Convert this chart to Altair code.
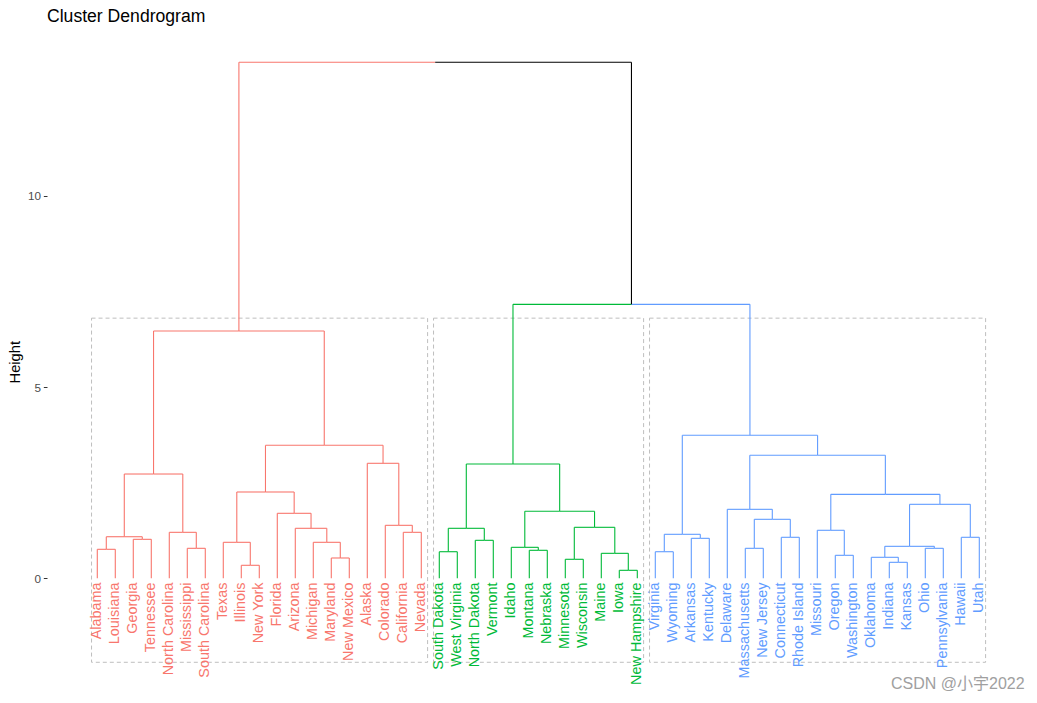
import altair as alt
import pandas as pd

# ---------------- data ----------------
red_leaves = ["Alabama", "Louisiana", "Georgia", "Tennessee", "North Carolina", "Mississippi",
              "South Carolina", "Texas", "Illinois", "New York", "Florida", "Arizona", "Michigan",
              "Maryland", "New Mexico", "Alaska", "Colorado", "California", "Nevada"]
green_leaves = ["South Dakota", "West Virginia", "North Dakota", "Vermont", "Idaho", "Montana",
                "Nebraska", "Minnesota", "Wisconsin", "Maine", "Iowa", "New Hampshire"]
blue_leaves = ["Virginia", "Wyoming", "Arkansas", "Kentucky", "Delaware", "Massachusetts",
               "New Jersey", "Connecticut", "Rhode Island", "Missouri", "Oregon", "Washington",
               "Oklahoma", "Indiana", "Kansas", "Ohio", "Pennsylvania", "Hawaii", "Utah"]

cluster_names = ["c1", "c2", "c3"]
cluster_colors = ["#F8766D", "#00BA38", "#619CFF"]

# merges: (left child, right child, height); child = leaf name or index of earlier merge
merges = [
    ("Alabama", "Louisiana", 0.758), ("Georgia", "Tennessee", 1.019), (0, 1, 1.087),
    ("Mississippi", "South Carolina", 0.784), ("North Carolina", 3, 1.202), (2, 4, 2.726),
    ("Illinois", "New York", 0.340), ("Texas", 6, 0.941), ("Maryland", "New Mexico", 0.531),
    ("Michigan", 8, 0.941), ("Arizona", 9, 1.307), ("Florida", 10, 1.699), (7, 11, 2.256),
    ("California", "Nevada", 1.202), ("Colorado", 13, 1.385), ("Alaska", 14, 3.006),
    (12, 15, 3.476), (5, 16, 6.464),
    ("South Dakota", "West Virginia", 0.695), ("North Dakota", "Vermont", 0.993), (18, 19, 1.307),
    ("Montana", "Nebraska", 0.732), ("Idaho", 21, 0.810), ("Minnesota", "Wisconsin", 0.497),
    ("Iowa", "New Hampshire", 0.209), ("Maine", 24, 0.653), (23, 25, 1.333), (22, 26, 1.751),
    (20, 27, 2.987),
    ("Virginia", "Wyoming", 0.695), ("Arkansas", "Kentucky", 1.045), (29, 30, 1.150),
    ("Massachusetts", "New Jersey", 0.784), ("Connecticut", "Rhode Island", 1.072), (32, 33, 1.542),
    ("Delaware", 34, 1.803), ("Oregon", "Washington", 0.601), ("Missouri", 36, 1.255),
    ("Indiana", "Kansas", 0.418), ("Oklahoma", 38, 0.549), ("Ohio", "Pennsylvania", 0.784),
    (39, 40, 0.836), ("Hawaii", "Utah", 1.072), (41, 42, 1.934), (37, 43, 2.195), (35, 44, 3.215),
    (31, 45, 3.738), (28, 46, 7.161), (17, 47, 13.487),
]

rect_top = 6.80
rect_bottom = -2.195
y_ticks = [0, 5, 10]
title_text = ["Cluster Dendrogram"]
watermark = ["CSDN @小宇2022"]

# ---------------- build tables ----------------
clusters = [red_leaves, green_leaves, blue_leaves]
leaves = red_leaves + green_leaves + blue_leaves
leaf_x = {name: i + 1 for i, name in enumerate(leaves)}
leaf_cl = {}
for cn, lst in zip(cluster_names, clusters):
    for n in lst:
        leaf_cl[n] = cn

node_x, node_h, node_c = [], [], []


def info(child):
    if isinstance(child, str):
        return leaf_x[child], 0.0, leaf_cl[child]
    return node_x[child], node_h[child], node_c[child]


segs = []
for a, b, h in merges:
    xa, ha, ca = info(a)
    xb, hb, cb = info(b)
    xm = (xa + xb) / 2
    cm = ca if ca == cb else "black"
    segs.append(dict(x=xa, x2=xa, y=ha, y2=h, c=ca))
    segs.append(dict(x=xb, x2=xb, y=hb, y2=h, c=cb))
    segs.append(dict(x=xa, x2=xm, y=h, y2=h, c=ca))
    segs.append(dict(x=xm, x2=xb, y=h, y2=h, c=cb))
    node_x.append(xm)
    node_h.append(h)
    node_c.append(cm)
seg_df = pd.DataFrame(segs)

label_df = pd.DataFrame({"name": leaves, "x": [leaf_x[n] for n in leaves],
                         "c": [leaf_cl[n] for n in leaves]})
label_df["y"] = -0.11

rect_df = pd.DataFrame({
    "x": [leaf_x[lst[0]] - 0.32 for lst in clusters],
    "x2": [leaf_x[lst[-1]] + 0.35 for lst in clusters],
    "y": [rect_bottom] * 3, "y2": [rect_top] * 3,
})

W, H = 980, 663
xscale = alt.Scale(domain=[-1.794, 52.65], nice=False, zero=False)
yscale = alt.Scale(domain=[-3.05, 14.279], nice=False, zero=False)
cscale = alt.Scale(domain=cluster_names + ["black"], range=cluster_colors + ["#000000"])

FONT = "Liberation Sans, Arial, sans-serif"

yaxis = alt.Axis(values=y_ticks, grid=False, domain=False, tickColor="#333333",
                 tickSize=3.67, tickWidth=1, labelColor="#4D4D4D", labelFontSize=11.7,
                 labelFont=FONT, labelPadding=2.9, title="Height",
                 titleFont=FONT, titleFontSize=14.67, titleFontWeight="normal",
                 titleColor="#000000", titleAngle=270, titleX=-32, titleY=329.7,
                 titleAlign="center", titleBaseline="middle")

rects = alt.Chart(rect_df).mark_rect(
    fill=None, stroke="#BEBEBE", strokeWidth=1, strokeDash=[4, 3]
).encode(
    x=alt.X("x:Q", scale=xscale, axis=None),
    x2="x2:Q",
    y=alt.Y("y:Q", scale=yscale, axis=yaxis),
    y2="y2:Q",
)

lines = alt.Chart(seg_df).mark_rule(strokeWidth=1.1).encode(
    x=alt.X("x:Q", scale=xscale, axis=None),
    x2="x2:Q",
    y=alt.Y("y:Q", scale=yscale, axis=yaxis),
    y2="y2:Q",
    color=alt.Color("c:N", scale=cscale, legend=None),
)

labels = alt.Chart(label_df).mark_text(
    angle=270, align="right", baseline="middle", font=FONT, fontSize=14.4
).encode(
    x=alt.X("x:Q", scale=xscale, axis=None),
    y=alt.Y("y:Q", scale=yscale, axis=yaxis),
    text="name:N",
    color=alt.Color("c:N", scale=cscale, legend=None),
)

title = alt.Chart(pd.DataFrame({"t": title_text})).mark_text(
    align="left", baseline="alphabetic", font=FONT, fontSize=17.6, color="#000000"
).encode(x=alt.value(0), y=alt.value(-10.4), text="t:N")

wm = alt.Chart(pd.DataFrame({"t": watermark})).mark_text(
    align="left", baseline="alphabetic", font="Liberation Sans, Noto Sans CJK SC",
    fontSize=16, color="#A0A0A0"
).encode(x=alt.value(844), y=alt.value(657), text="t:N")

chart = alt.layer(rects, lines, labels, title, wm).properties(
    width=W, height=H,
    autosize=alt.AutoSizeParams(type="none"),
    padding={"left": 39, "top": 24, "right": 0, "bottom": 0},
    view=alt.ViewBackground(stroke=None, strokeWidth=0),
).configure_view(stroke=None, strokeWidth=0).configure_axis(
    domain=False, grid=False
).configure(background="white")

chart.save("out.html", embed_options={"renderer": "svg", "actions": False})
